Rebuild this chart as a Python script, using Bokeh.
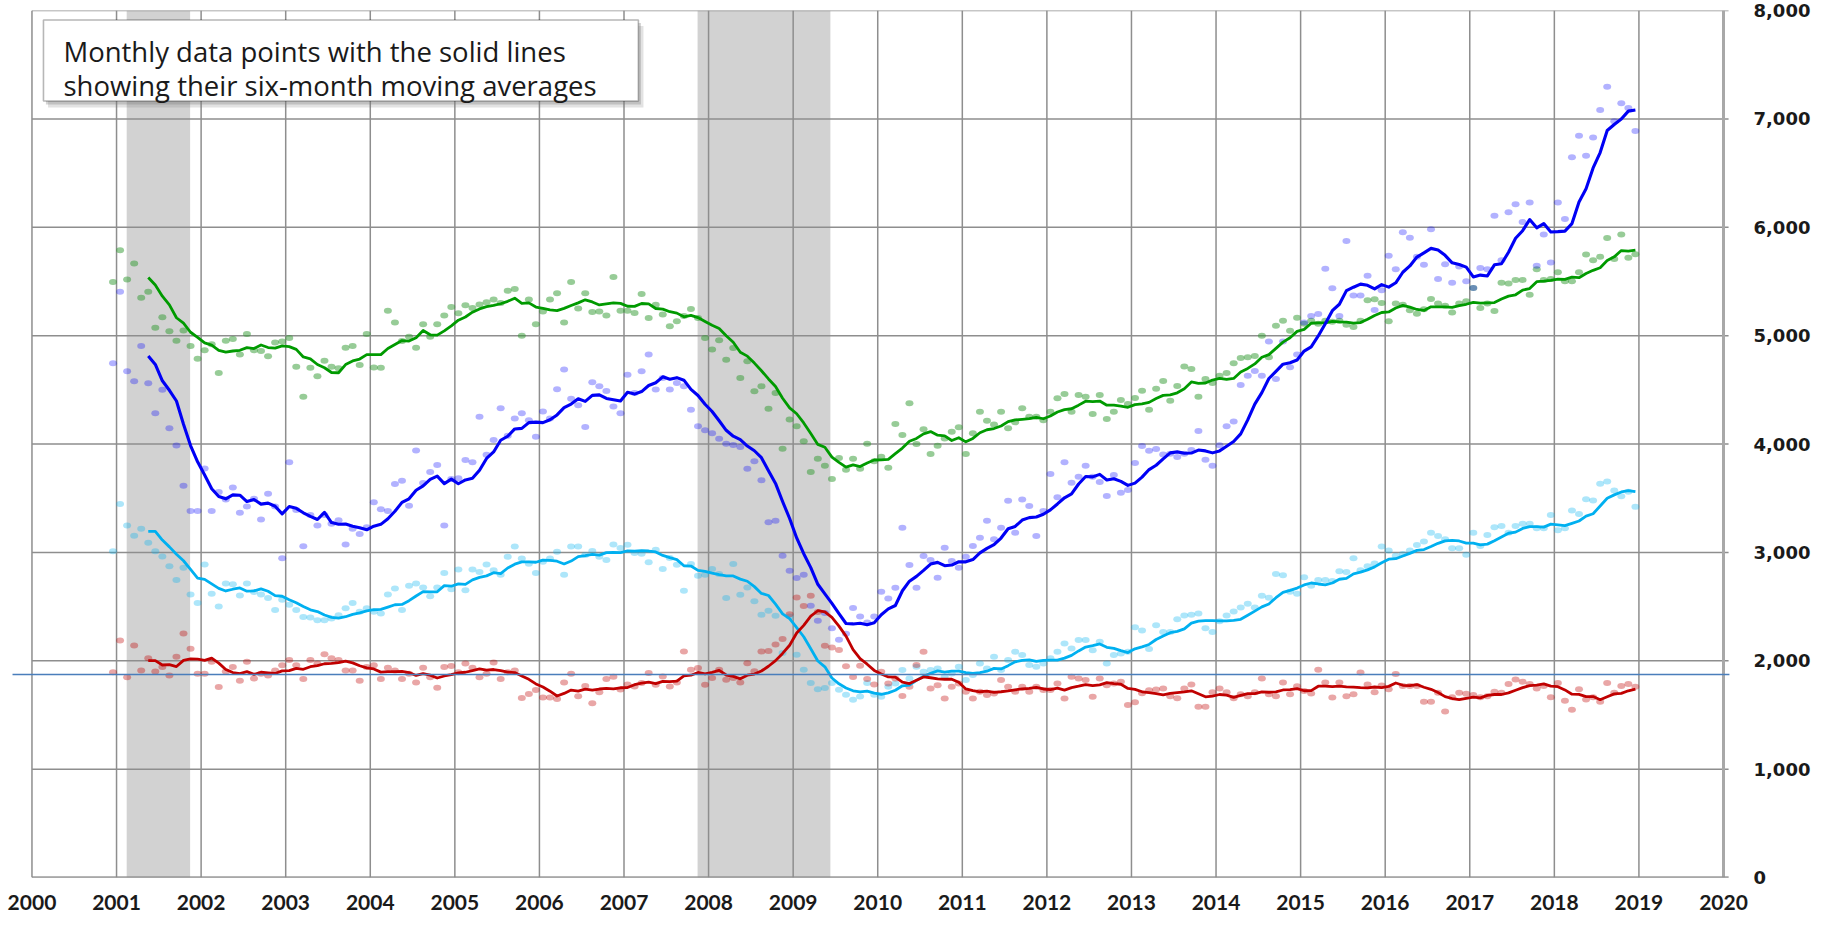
import numpy as np
import pandas as pd
from bokeh.plotting import figure
from bokeh.models import (Range1d, FixedTicker, NumeralTickFormatter, BasicTickFormatter,
                          BoxAnnotation, Label)
from bokeh.embed import file_html
from bokeh.resources import INLINE

# ---------------- data (monthly, Dec 2000 .. Dec 2018) ----------------
green = [5494,
         5787, 5519, 5666, 5350, 5404, 5073, 5169, 5041, 4952, 5048, 4904, 4787,
         4866, 4920, 4656, 4952, 4968, 4825, 5016, 4866, 4857, 4809, 4936, 4946,
         4978, 4713, 4436, 4704, 4624, 4768, 4713, 4700, 4889, 4904, 4729, 5016,
         4707, 4704, 5229, 5121, 4950, 4990, 4889, 5105, 4990, 5105, 5185, 5264,
         5207, 5280, 5255, 5287, 5309, 5334, 5300, 5414, 5430, 5000, 5334, 5105,
         5223, 5334, 5392, 5121, 5494, 5250, 5392, 5217, 5223, 5185, 5541, 5229,
         5230, 5209, 5385, 5163, 5286, 5194, 5086, 5132, 5180, 5246, 5163, 4978,
         4871, 4957, 4778, 4886, 4609, 4763, 4486, 4532, 4326, 4471, 3957, 4225,
         4163, 4025, 3742, 3865, 3800, 3677, 3871, 3763, 3865, 3772, 4003, 3840,
         3883, 3782, 4185, 4083, 4375, 4000, 4135, 3908, 3985, 4050, 4114, 4154,
         3908, 4100, 4298, 4215, 4180, 4298, 4145, 4200, 4329, 4252, 4252, 4220,
         4298, 4422, 4462, 4298, 4452, 4437, 4277, 4452, 4231, 4298, 4406, 4369,
         4425, 4491, 4316, 4509, 4582, 4400, 4535, 4716, 4691, 4436, 4600, 4564,
         4629, 4655, 4745, 4793, 4800, 4811, 5000, 4800, 5091, 5138, 5044, 5164,
         5109, 5138, 5109, 5138, 5127, 5138, 5100, 5080, 5138, 5327, 5335, 5300,
         5133, 5296, 5284, 5234, 5202, 5243, 5337, 5296, 5276, 5214, 5296, 5317,
         5440, 5255, 5296, 5227, 5489, 5481, 5514, 5514, 5378, 5612, 5514, 5522,
         5584, 5502, 5502, 5584, 5748, 5695, 5727, 5900, 5707, 5933, 5719, 5750]

blue = [4745,
        5404, 4672, 4580, 4904, 4561, 4283, 4500, 4146, 3987, 3615, 3382, 3382,
        3774, 3382, 3557, 3487, 3599, 3366, 3424, 3494, 3303, 3541, 3424, 2946,
        3831, 3392, 3057, 3344, 3248, 3344, 3264, 3296, 3073, 3217, 3169, 3232,
        3462, 3398, 3382, 3631, 3662, 3430, 3939, 3640, 3742, 3806, 3248, 3678,
        3685, 3853, 3831, 4252, 3901, 4038, 4331, 4076, 4236, 4283, 4220, 4067,
        4299, 4236, 4506, 4688, 4417, 4357, 4156, 4570, 4532, 4490, 4347, 4283,
        4640, 4471, 4671, 4825, 4502, 4610, 4502, 4563, 4532, 4317, 4163, 4126,
        4100, 4049, 4003, 3990, 3972, 3772, 3840, 3665, 3277, 3292, 2969, 2831,
        2763, 2794, 2508, 2369, 2440, 2300, 2194, 2250, 2486, 2409, 2354, 2409,
        2637, 2575, 2674, 3228, 2883, 2674, 2966, 2929, 2766, 3043, 2920, 2858,
        2960, 3058, 3135, 3292, 3120, 3228, 3477, 3182, 3489, 3428, 3151, 3382,
        3723, 3508, 3831, 3643, 3698, 3800, 3698, 3650, 3520, 3714, 3551, 3575,
        3825, 3982, 3938, 3953, 3902, 3909, 3880, 3909, 3945, 4120, 3855, 3800,
        3989, 4164, 4207, 4545, 4629, 4673, 4629, 4945, 4600, 4945, 4709, 4825,
        5120, 5182, 5200, 5618, 5436, 5182, 5873, 5371, 5371, 5553, 5236, 5418,
        5736, 5612, 5953, 5904, 5727, 5653, 5982, 5522, 5658, 5489, 5637, 5502,
        5440, 5625, 5612, 6105, 5695, 6138, 6212, 6048, 6228, 5645, 5933, 5674,
        6228, 6076, 6647, 6844, 6659, 6828, 7082, 7296, 6979, 7144, 7100, 6889]

cyan = [3010,
        3446, 3248, 3153, 3217, 3089, 3010, 2962, 2873, 2745, 2857, 2611, 2532,
        2889, 2618, 2500, 2713, 2707, 2602, 2713, 2634, 2611, 2580, 2468, 2564,
        2516, 2468, 2404, 2398, 2373, 2373, 2389, 2420, 2484, 2532, 2452, 2484,
        2452, 2436, 2611, 2666, 2468, 2691, 2713, 2675, 2596, 2675, 2809, 2659,
        2841, 2650, 2841, 2818, 2889, 2834, 2793, 2959, 3054, 2943, 2895, 2809,
        2914, 2943, 3006, 2793, 3054, 3054, 2975, 3013, 2959, 2930, 3073, 3041,
        3071, 2994, 2988, 2908, 3025, 2846, 2948, 2886, 2646, 2892, 2785, 2794,
        2846, 2800, 2578, 2892, 2609, 2677, 2548, 2425, 2462, 2415, 2071, 2409,
        2055, 1917, 1794, 1738, 1748, 1794, 1732, 1686, 1640, 1671, 1794, 1686,
        1668, 1760, 1791, 1914, 1837, 1945, 1898, 1914, 1929, 1852, 1883, 1945,
        1822, 1868, 1975, 1929, 2037, 1914, 2006, 2083, 2052, 1960, 1945, 1975,
        2022, 2083, 2160, 2114, 2191, 2191, 2098, 2175, 1975, 2052, 2068, 2083,
        2309, 2280, 2109, 2327, 2265, 2265, 2382, 2418, 2425, 2436, 2300, 2265,
        2364, 2418, 2455, 2491, 2527, 2491, 2600, 2582, 2800, 2789, 2636, 2618,
        2771, 2691, 2745, 2745, 2735, 2825, 2818, 2945, 2836, 2873, 2898, 3055,
        3018, 2969, 2985, 3018, 3067, 3100, 3182, 3150, 3121, 3039, 3039, 2977,
        3182, 3059, 3161, 3231, 3244, 3182, 3244, 3264, 3264, 3223, 3223, 3346,
        3203, 3223, 3387, 3355, 3490, 3478, 3634, 3654, 3572, 3519, 3560, 3420]

red = [1895,
       2188, 1847, 2140, 1911, 2022, 1901, 1943, 1863, 2038, 2252, 2111, 1879,
       1879, 1990, 1758, 1900, 1943, 1815, 1990, 1837, 1879, 1863, 1911, 1958,
       2006, 1958, 1831, 2006, 1974, 2060, 2022, 2006, 1911, 1911, 1815, 1943,
       1958, 1831, 1936, 1911, 1831, 1879, 1799, 1936, 1847, 1752, 1943, 1952,
       1895, 1974, 1936, 1847, 1879, 1984, 1831, 1895, 1911, 1656, 1694, 1729,
       1662, 1662, 1646, 1799, 1879, 1672, 1767, 1608, 1710, 1831, 1853, 1735,
       1780, 1763, 1794, 1886, 1778, 1855, 1763, 1800, 2086, 1917, 1932, 1778,
       1840, 1917, 1825, 1840, 1800, 1978, 1902, 2086, 2090, 2150, 2200, 2430,
       2583, 2506, 2600, 2450, 2138, 2123, 2100, 1950, 1850, 1954, 1831, 1780,
       1898, 1791, 1837, 1674, 1760, 1960, 2083, 1745, 1775, 1652, 1760, 1791,
       1714, 1652, 1714, 1683, 1698, 1822, 1760, 1714, 1760, 1714, 1760, 1729,
       1729, 1791, 1652, 1852, 1837, 1822, 1668, 1837, 1775, 1791, 1806, 1591,
       1618, 1700, 1727, 1735, 1745, 1673, 1655, 1745, 1782, 1575, 1575, 1709,
       1745, 1709, 1655, 1691, 1673, 1709, 1836, 1691, 1673, 1800, 1691, 1764,
       1720, 1698, 1918, 1800, 1662, 1800, 1673, 1691, 1891, 1782, 1709, 1771,
       1737, 1877, 1766, 1766, 1766, 1622, 1622, 1704, 1532, 1663, 1704, 1696,
       1684, 1663, 1672, 1713, 1704, 1786, 1827, 1807, 1786, 1745, 1766, 1663,
       1795, 1630, 1548, 1737, 1643, 1663, 1622, 1795, 1704, 1766, 1786, 1760]

recession_start = [2001.12, 2007.87]
recession_end = [2001.87, 2009.44]
reference_level = 1873
y_ticks = [0, 1000, 2000, 3000, 4000, 5000, 6000, 7000, 8000]
year_ticks = list(range(2000, 2021))
note_lines = ["Monthly data points with the solid lines",
              "showing their six-month moving averages"]

n = len(green)
assert all(len(s) == n for s in (blue, cyan, red))
# month mid-points, first point = Dec 2000
x = np.array([2000 + (11 + i + 0.5) / 12.0 for i in range(n)])

def mavg(vals):
    return pd.Series(vals, dtype=float).rolling(6).mean().to_numpy()

# ---------------- figure ----------------
p = figure(width=1826, height=928,
           x_range=Range1d(1999.758, 2020.0946), y_range=Range1d(0, 8000),
           output_backend="svg", toolbar_location=None,
           y_axis_location="right",
           min_border_left=11, min_border_right=95, min_border_top=10, min_border_bottom=51)
p.xgrid.visible = False
p.ygrid.visible = False
p.outline_line_color = None
p.background_fill_color = "white"
p.border_fill_color = "white"

# recession shading
p.quad(left=recession_start, right=recession_end, bottom=y_ticks[0], top=y_ticks[-1],
       fill_color="#d2d2d2", line_color=None)

# grid lines drawn from tick lists
grid_col = "#8e8e8e"
x_right_ext = year_ticks[-1] + 0.06
p.segment(x0=[year_ticks[0]] * len(y_ticks), y0=y_ticks,
          x1=[x_right_ext] * len(y_ticks), y1=y_ticks,
          line_color=grid_col, line_width=1.5)
p.segment(x0=year_ticks[:-1], y0=[y_ticks[0]] * (len(year_ticks) - 1),
          x1=year_ticks[:-1], y1=[y_ticks[-1]] * (len(year_ticks) - 1),
          line_color=grid_col, line_width=1.5)
# right border + bottom axis line
p.segment(x0=[year_ticks[-1]], y0=[y_ticks[0]], x1=[year_ticks[-1]], y1=[y_ticks[-1]],
          line_color="#a8a8a8", line_width=3)
p.segment(x0=[year_ticks[0]], y0=[y_ticks[0]], x1=[x_right_ext], y1=[y_ticks[0]],
          line_color="#8a8a8a", line_width=2.2)

series = [
    (green, "#2f9a2f", 0.5, "#009a00", 2.8),
    (cyan, "#00b0f0", 0.32, "#00b0f0", 2.8),
    (blue, "#0000ff", 0.3, "#0000f5", 3.1),
    (red, "#c00000", 0.35, "#c00000", 2.8),
]
for vals, pc, pa, lc, lw in series:
    p.ellipse(x=x, y=vals, width=8, height=6, width_units="screen", height_units="screen",
              fill_color=pc, fill_alpha=pa, line_color=None)
for vals, pc, pa, lc, lw in series:
    ma = mavg(vals)
    ok = ~np.isnan(ma)
    p.line(x=x[ok], y=ma[ok], line_color=lc, line_width=lw, line_join="round")

# horizontal reference line
p.segment(x0=[1999.77], y0=[reference_level], x1=[2020.07], y1=[reference_level],
          line_color="#4a7ebb", line_width=1.3)

# note box with shadow
p.add_layout(BoxAnnotation(left=2000.19, right=2007.23, top=7858, bottom=7105,
                           fill_color="#7a7a7a", fill_alpha=0.22, line_color=None))
p.add_layout(BoxAnnotation(left=2000.165, right=2007.20, top=7885, bottom=7132,
                           fill_color="#7a7a7a", fill_alpha=0.32, line_color=None))
p.add_layout(BoxAnnotation(left=2000.136, right=2007.17, top=7912, bottom=7165,
                           fill_color="white", fill_alpha=1.0,
                           line_color="#111111", line_width=1.6))
for txt, yy in zip(note_lines, [7622, 7308]):
    p.add_layout(Label(x=2000.372, y=yy, text=txt, text_font="Open Sans",
                       text_font_size="27.5px", text_color="#1a1a1a",
                       text_baseline="alphabetic", text_align="left"))

# outer chart border (canvas units)
p.add_layout(BoxAnnotation(left=3, right=1821, top=-6, bottom=940,
                           left_units="canvas", right_units="canvas",
                           top_units="canvas", bottom_units="canvas",
                           fill_color=None, line_color="#b4b4b4", line_width=2))

# axes
ya = p.yaxis[0]
ya.ticker = FixedTicker(ticks=y_ticks)
ya.formatter = NumeralTickFormatter(format="0,0")
ya.axis_line_color = None
ya.major_tick_line_color = None
ya.minor_tick_line_color = None
ya.major_tick_out = 0
ya.major_tick_in = 0
ya.major_label_standoff = 22
ya.major_label_text_font = "DejaVu Sans"
ya.major_label_text_font_style = "bold"
ya.major_label_text_font_size = "18px"
ya.major_label_text_color = "#1a1a1a"

xa = p.xaxis[0]
xa.ticker = FixedTicker(ticks=year_ticks)
xa.formatter = BasicTickFormatter(use_scientific=False)
xa.axis_line_color = None
xa.major_tick_line_color = None
xa.minor_tick_line_color = None
xa.major_tick_out = 0
xa.major_tick_in = 0
xa.major_label_standoff = 17
xa.major_label_text_font = "Lato"
xa.major_label_text_font_style = "bold"
xa.major_label_text_font_size = "21px"
xa.major_label_text_color = "#1a1a1a"

open("out.html", "w").write(file_html(p, INLINE))
